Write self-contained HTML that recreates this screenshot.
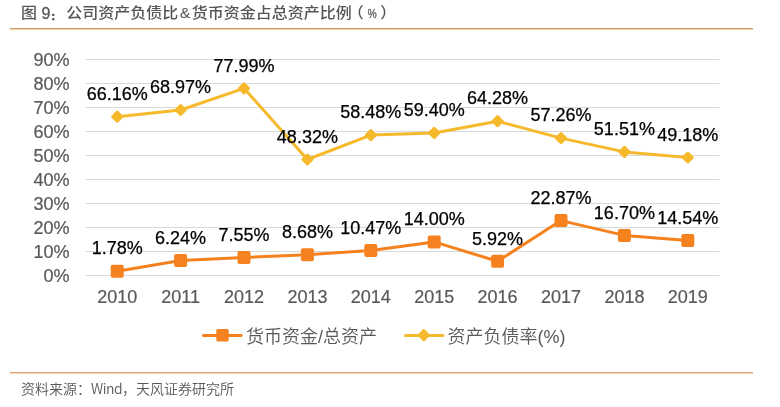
<!DOCTYPE html>
<html><head><meta charset="utf-8"><style>
html,body{margin:0;padding:0;background:#fff;}
#c{will-change:transform;position:relative;width:780px;height:407px;overflow:hidden;background:#fff;}
.title{position:absolute;left:21px;top:3px;font-family:"Liberation Sans","Noto Sans CJK SC",sans-serif;font-size:16px;font-weight:500;color:#555;white-space:nowrap;line-height:22px;transform:scaleY(0.94);transform-origin:0 0;}
.title .cj{font-family:"Noto Sans CJK SC",sans-serif;font-weight:bold;}
.hr1{position:absolute;left:10px;top:28px;width:743px;height:1px;background:#C8946A;box-shadow:0 1px 0 #F2DDB5,0 2px 0 #FFF7E2;}
.hr2{position:absolute;left:10px;top:372px;width:743px;height:1px;background:#DFA77D;box-shadow:0 1px 0 #F8D0AC;}
.src{position:absolute;left:21px;top:378px;font-family:"Noto Sans CJK SC",sans-serif;font-size:14px;font-weight:350;color:#595959;white-space:nowrap;line-height:20px;}
svg{position:absolute;left:0;top:0;}
.ax{font-family:"Liberation Sans",sans-serif;font-size:18px;fill:#595959;stroke:#595959;stroke-width:0.2px;}
.dl{font-family:"Liberation Sans",sans-serif;font-size:18px;fill:#000;stroke:#000;stroke-width:0.25px;}
.lg{font-family:"Liberation Sans","Noto Sans CJK SC",sans-serif;font-size:18px;font-weight:350;fill:#595959;}
</style></head><body><div id="c">
<div class="title">图 <span style="display:inline-block;font-weight:400;transform:scaleY(1.064);transform-origin:0 100%;position:relative;top:0.6px;-webkit-text-stroke:0.3px #555">9</span><span style="display:inline-block;width:16px;font-weight:bold;font-size:10px;-webkit-text-stroke:0.7px #555;position:relative;top:1.5px;left:0.5px">：</span>公司资产负债比<span style="margin:0 1.3px">&amp;</span>货币资金占总资产比例<span style="position:relative;left:-4px">（</span><span style="font-size:14px;display:inline-block;transform:scaleX(0.72);margin:0 -1px 0 -2px;-webkit-text-stroke:0.3px #555">%</span><span style="position:relative;left:3px">）</span></div>
<div class="hr1"></div>
<svg width="780" height="407" viewBox="0 0 780 407">
<line x1="85.5" y1="275.5" x2="719.5" y2="275.5" stroke="#D9D9D9" stroke-width="1"/>
<line x1="85.5" y1="251.5" x2="719.5" y2="251.5" stroke="#D9D9D9" stroke-width="1"/>
<line x1="85.5" y1="227.5" x2="719.5" y2="227.5" stroke="#D9D9D9" stroke-width="1"/>
<line x1="85.5" y1="203.5" x2="719.5" y2="203.5" stroke="#D9D9D9" stroke-width="1"/>
<line x1="85.5" y1="179.5" x2="719.5" y2="179.5" stroke="#D9D9D9" stroke-width="1"/>
<line x1="85.5" y1="155.5" x2="719.5" y2="155.5" stroke="#D9D9D9" stroke-width="1"/>
<line x1="85.5" y1="131.5" x2="719.5" y2="131.5" stroke="#D9D9D9" stroke-width="1"/>
<line x1="85.5" y1="107.5" x2="719.5" y2="107.5" stroke="#D9D9D9" stroke-width="1"/>
<line x1="85.5" y1="83.5" x2="719.5" y2="83.5" stroke="#D9D9D9" stroke-width="1"/>
<line x1="85.5" y1="59.5" x2="719.5" y2="59.5" stroke="#D9D9D9" stroke-width="1"/>
<text x="69.5" y="281.9" text-anchor="end" class="ax">0%</text>
<text x="69.5" y="257.9" text-anchor="end" class="ax">10%</text>
<text x="69.5" y="233.9" text-anchor="end" class="ax">20%</text>
<text x="69.5" y="209.9" text-anchor="end" class="ax">30%</text>
<text x="69.5" y="185.9" text-anchor="end" class="ax">40%</text>
<text x="69.5" y="161.9" text-anchor="end" class="ax">50%</text>
<text x="69.5" y="137.9" text-anchor="end" class="ax">60%</text>
<text x="69.5" y="113.9" text-anchor="end" class="ax">70%</text>
<text x="69.5" y="89.9" text-anchor="end" class="ax">80%</text>
<text x="69.5" y="65.9" text-anchor="end" class="ax">90%</text>
<text x="117.2" y="303.0" text-anchor="middle" class="ax">2010</text>
<text x="180.6" y="303.0" text-anchor="middle" class="ax">2011</text>
<text x="244.0" y="303.0" text-anchor="middle" class="ax">2012</text>
<text x="307.4" y="303.0" text-anchor="middle" class="ax">2013</text>
<text x="370.8" y="303.0" text-anchor="middle" class="ax">2014</text>
<text x="434.2" y="303.0" text-anchor="middle" class="ax">2015</text>
<text x="497.6" y="303.0" text-anchor="middle" class="ax">2016</text>
<text x="561.0" y="303.0" text-anchor="middle" class="ax">2017</text>
<text x="624.4" y="303.0" text-anchor="middle" class="ax">2018</text>
<text x="687.8" y="303.0" text-anchor="middle" class="ax">2019</text>
<polyline points="117.2,116.7 180.6,110.0 244.0,88.3 307.4,159.5 370.8,135.1 434.2,132.9 497.6,121.2 561.0,138.1 624.4,151.9 687.8,157.5" fill="none" stroke="#F7B92C" stroke-width="3" stroke-linejoin="round" stroke-linecap="round"/>
<polyline points="117.2,271.2 180.6,260.5 244.0,257.4 307.4,254.7 370.8,250.4 434.2,241.9 497.6,261.3 561.0,220.6 624.4,235.4 687.8,240.6" fill="none" stroke="#F5821F" stroke-width="3" stroke-linejoin="round" stroke-linecap="round"/>
<rect x="112.5" y="112.0" width="9.4" height="9.4" rx="1.5" fill="#F7B92C" transform="rotate(45 117.2 116.7)"/>
<rect x="175.9" y="105.3" width="9.4" height="9.4" rx="1.5" fill="#F7B92C" transform="rotate(45 180.6 110.0)"/>
<rect x="239.3" y="83.6" width="9.4" height="9.4" rx="1.5" fill="#F7B92C" transform="rotate(45 244.0 88.3)"/>
<rect x="302.7" y="154.8" width="9.4" height="9.4" rx="1.5" fill="#F7B92C" transform="rotate(45 307.4 159.5)"/>
<rect x="366.1" y="130.4" width="9.4" height="9.4" rx="1.5" fill="#F7B92C" transform="rotate(45 370.8 135.1)"/>
<rect x="429.5" y="128.2" width="9.4" height="9.4" rx="1.5" fill="#F7B92C" transform="rotate(45 434.2 132.9)"/>
<rect x="492.9" y="116.5" width="9.4" height="9.4" rx="1.5" fill="#F7B92C" transform="rotate(45 497.6 121.2)"/>
<rect x="556.3" y="133.4" width="9.4" height="9.4" rx="1.5" fill="#F7B92C" transform="rotate(45 561.0 138.1)"/>
<rect x="619.7" y="147.2" width="9.4" height="9.4" rx="1.5" fill="#F7B92C" transform="rotate(45 624.4 151.9)"/>
<rect x="683.1" y="152.8" width="9.4" height="9.4" rx="1.5" fill="#F7B92C" transform="rotate(45 687.8 157.5)"/>
<rect x="110.7" y="264.7" width="13" height="13" rx="2" fill="#F5821F"/>
<rect x="174.1" y="254.0" width="13" height="13" rx="2" fill="#F5821F"/>
<rect x="237.5" y="250.9" width="13" height="13" rx="2" fill="#F5821F"/>
<rect x="300.9" y="248.2" width="13" height="13" rx="2" fill="#F5821F"/>
<rect x="364.3" y="243.9" width="13" height="13" rx="2" fill="#F5821F"/>
<rect x="427.7" y="235.4" width="13" height="13" rx="2" fill="#F5821F"/>
<rect x="491.1" y="254.8" width="13" height="13" rx="2" fill="#F5821F"/>
<rect x="554.5" y="214.1" width="13" height="13" rx="2" fill="#F5821F"/>
<rect x="617.9" y="228.9" width="13" height="13" rx="2" fill="#F5821F"/>
<rect x="681.3" y="234.1" width="13" height="13" rx="2" fill="#F5821F"/>
<text x="117.2" y="99.9" text-anchor="middle" class="dl">66.16%</text>
<text x="180.6" y="93.2" text-anchor="middle" class="dl">68.97%</text>
<text x="244.0" y="71.5" text-anchor="middle" class="dl">77.99%</text>
<text x="307.4" y="142.7" text-anchor="middle" class="dl">48.32%</text>
<text x="370.8" y="118.3" text-anchor="middle" class="dl">58.48%</text>
<text x="434.2" y="116.1" text-anchor="middle" class="dl">59.40%</text>
<text x="497.6" y="104.4" text-anchor="middle" class="dl">64.28%</text>
<text x="561.0" y="121.3" text-anchor="middle" class="dl">57.26%</text>
<text x="624.4" y="135.1" text-anchor="middle" class="dl">51.51%</text>
<text x="687.8" y="140.7" text-anchor="middle" class="dl">49.18%</text>
<text x="117.2" y="254.4" text-anchor="middle" class="dl">1.78%</text>
<text x="180.6" y="243.7" text-anchor="middle" class="dl">6.24%</text>
<text x="244.0" y="240.6" text-anchor="middle" class="dl">7.55%</text>
<text x="307.4" y="237.9" text-anchor="middle" class="dl">8.68%</text>
<text x="370.8" y="233.6" text-anchor="middle" class="dl">10.47%</text>
<text x="434.2" y="225.1" text-anchor="middle" class="dl">14.00%</text>
<text x="497.6" y="244.5" text-anchor="middle" class="dl">5.92%</text>
<text x="561.0" y="203.8" text-anchor="middle" class="dl">22.87%</text>
<text x="624.4" y="218.6" text-anchor="middle" class="dl">16.70%</text>
<text x="687.8" y="223.8" text-anchor="middle" class="dl">14.54%</text>
<line x1="203.5" y1="335.5" x2="241.2" y2="335.5" stroke="#F5821F" stroke-width="3" stroke-linecap="round"/>
<rect x="216.3" y="329" width="12.4" height="12.4" rx="1.5" fill="#F5821F"/>
<text x="246" y="343" class="lg">货币资金/总资产</text>
<line x1="405.5" y1="335.5" x2="443" y2="335.5" stroke="#F7B92C" stroke-width="3" stroke-linecap="round"/>
<rect x="419.1" y="330.5" width="9.4" height="9.4" rx="1.5" fill="#F7B92C" transform="rotate(45 423.8 335.2)"/>
<text x="447.5" y="343" class="lg">资产负债率(%)</text>
</svg>
<div class="hr2"></div>
<div class="src">资料来源：<span style="letter-spacing:-0.5px">Wind</span>，天风证券研究所</div>
</div></body></html>
